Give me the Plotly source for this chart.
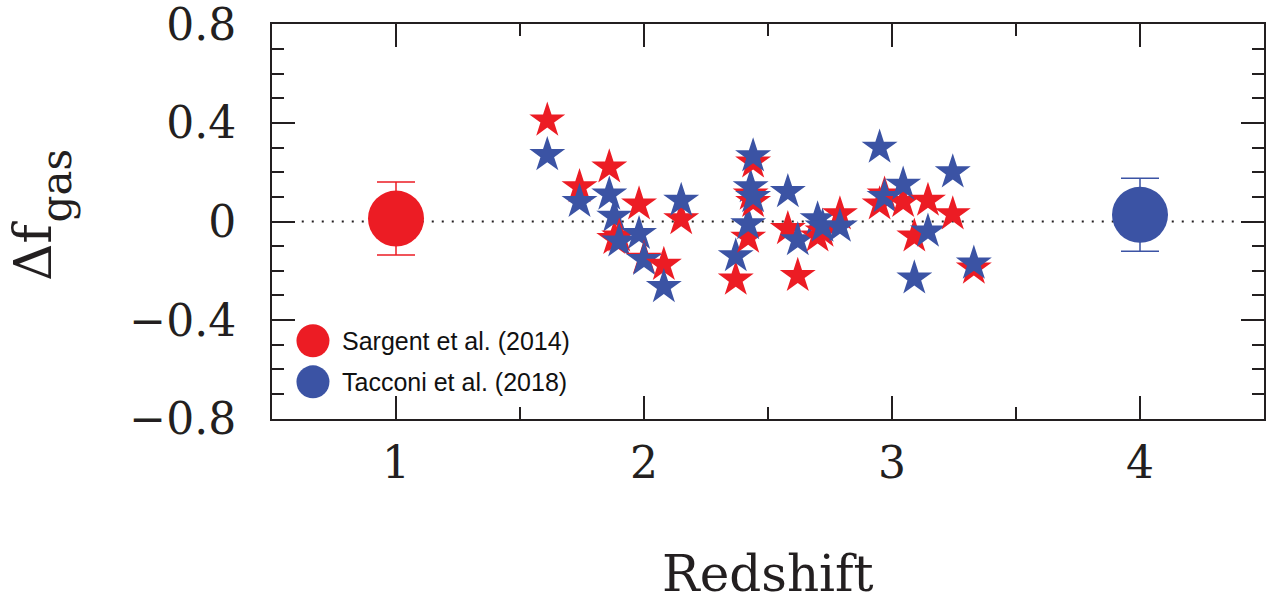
import plotly.graph_objects as go

# ---- data ----
redshift = [1.61, 1.74, 1.86, 1.88, 1.90, 1.98, 2.00, 2.08, 2.15,
            2.37, 2.42, 2.43, 2.44, 2.44, 2.58, 2.62, 2.70, 2.72, 2.79,
            2.95, 2.97, 3.045, 3.09, 3.145, 3.245, 3.33]
dfgas_sargent = [0.41, 0.14, 0.22, -0.07, -0.06, 0.07, -0.15, -0.175, 0.01,
                 -0.235, -0.065, 0.11, 0.08, 0.24, -0.03, -0.22, -0.06, -0.04, 0.03,
                 0.07, 0.11, 0.08, -0.06, 0.085, 0.03, -0.19]
dfgas_tacconi = [0.27, 0.08, 0.11, 0.02, -0.08, -0.05, -0.155, -0.265, 0.085,
                 -0.14, -0.01, 0.14, 0.10, 0.265, 0.12, -0.075, 0.01, -0.02, -0.02,
                 0.30, 0.10, 0.15, -0.23, -0.04, 0.20, -0.17]

mean_z_sargent = [1.0]
mean_sargent = [0.012]
err_sargent = [0.148]
mean_z_tacconi = [4.0]
mean_tacconi = [0.027]
err_tacconi = [0.148]

legend_labels = ["Sargent et al. (2014)", "Tacconi et al. (2018)"]
x_ticks = [1, 2, 3, 4]
y_ticks = [-0.8, -0.4, 0, 0.4, 0.8]
y_ticktext = ["\u22120.8", "\u22120.4", "0", "0.4", "0.8"]
x_title = "Redshift"
y_title_main = "Δf"
y_title_sub = "gas"

RED = "#ec1c24"
BLUE = "#3b53a4"
INK = "#231f20"

# interleave the two estimates per galaxy (red drawn first, then blue)
xs, ys, cs = [], [], []
for z, r, b in zip(redshift, dfgas_sargent, dfgas_tacconi):
    xs += [z, z]
    ys += [r, b]
    cs += [RED, BLUE]

fig = go.Figure()

fig.add_trace(go.Scatter(
    x=mean_z_sargent, y=mean_sargent, mode="markers",
    marker=dict(symbol="circle", size=56, color=RED, line=dict(width=0)),
    error_y=dict(type="data", array=err_sargent, color=RED, thickness=1.5, width=19),
    showlegend=False, name=legend_labels[0]))
fig.add_trace(go.Scatter(
    x=mean_z_tacconi, y=mean_tacconi, mode="markers",
    marker=dict(symbol="circle", size=56, color=BLUE, line=dict(width=0)),
    error_y=dict(type="data", array=err_tacconi, color=BLUE, thickness=1.5, width=19),
    showlegend=False, name=legend_labels[1]))
fig.add_trace(go.Scatter(
    x=xs, y=ys, mode="markers",
    marker=dict(symbol="star", size=27, color=cs, line=dict(width=0)),
    showlegend=False))

# zero reference line (dotted)
fig.add_shape(type="line", xref="paper", yref="y", x0=0.03, x1=0.975, y0=0, y1=0,
              line=dict(color=INK, width=2, dash="2px,8px"), layer="below")

# manual legend
leg_y = [0.198, 0.094]
for lab, col, yy in zip(legend_labels, [RED, BLUE], leg_y):
    fig.add_shape(type="circle", xref="paper", yref="paper",
                  xsizemode="pixel", ysizemode="pixel",
                  xanchor=0.0413, yanchor=yy,
                  x0=-16.5, x1=16.5, y0=-16.5, y1=16.5,
                  fillcolor=col, line=dict(width=0))
    fig.add_annotation(x=0.0686, y=yy, xref="paper", yref="paper",
                       text=lab, showarrow=False, xanchor="left", yanchor="middle",
                       font=dict(family="Liberation Sans, Arial", size=25, color="#111"))

# axis titles as annotations (precise placement)
fig.add_annotation(x=0.5, y=0, xref="paper", yref="paper", yshift=-155,
                   text=x_title, showarrow=False, xanchor="center", yanchor="middle",
                   font=dict(family="DejaVu Serif", size=50, color=INK))
fig.add_annotation(x=0, y=0.4253, xref="paper", yref="paper", xshift=-239,
                   text=y_title_main, showarrow=False, textangle=-90,
                   xanchor="center", yanchor="middle",
                   font=dict(family="DejaVu Serif", size=52, color=INK))
fig.add_annotation(x=0, y=0.5886, xref="paper", yref="paper", xshift=-215,
                   text=y_title_sub, showarrow=False, textangle=-90,
                   xanchor="center", yanchor="middle",
                   font=dict(family="DejaVu Serif", size=42, color=INK))

axis_common = dict(
    showgrid=False, zeroline=False, showline=True, linecolor=INK, linewidth=2,
    mirror="allticks", ticks="inside", ticklen=23, tickwidth=2, tickcolor=INK,
    tickfont=dict(family="DejaVu Serif", size=44, color=INK),
    ticklabeloverflow="allow",
)

fig.update_xaxes(
    range=[0.5, 4.5], tickmode="array", tickvals=x_ticks,
    minor=dict(dtick=0.5, ticklen=12, tickwidth=2, tickcolor=INK, ticks="inside"),
    ticklabelstandoff=4,
    **axis_common)
fig.update_yaxes(
    range=[-0.8008, 0.8008], tickmode="array", tickvals=y_ticks, ticktext=y_ticktext,
    minor=dict(tick0=0, dtick=0.1, ticklen=12, tickwidth=2, tickcolor=INK, ticks="inside"),
    ticklabelstandoff=25,
    **axis_common)

fig.update_layout(
    width=1276, height=604,
    margin=dict(l=272, r=12, t=24, b=185, autoexpand=False),
    paper_bgcolor="white", plot_bgcolor="white",
    showlegend=False,
)

fig.write_html("out.html", config={"displayModeBar": False},
               post_script="document.body.style.margin='0';document.body.style.overflow='hidden';")
